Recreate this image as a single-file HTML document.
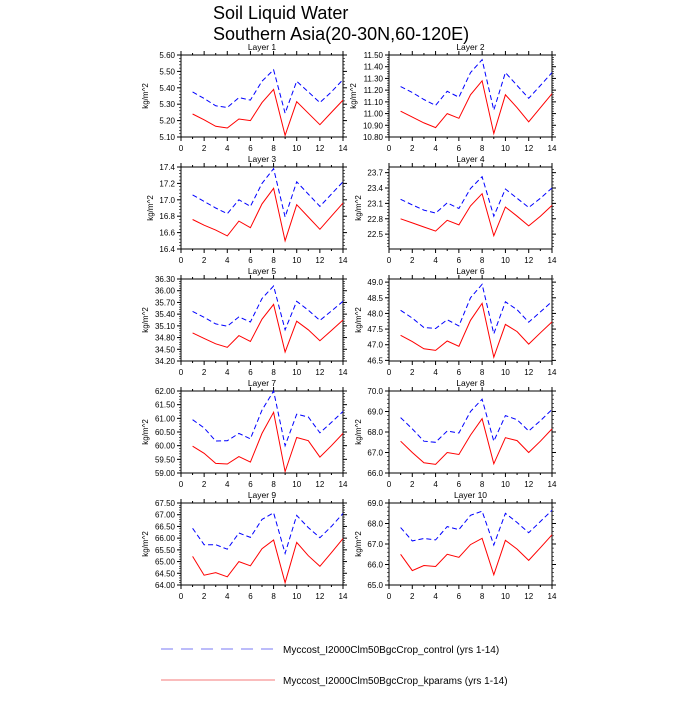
<!DOCTYPE html>
<html><head><meta charset="utf-8"><style>
body{margin:0;background:#fff}
svg text{font-family:"Liberation Sans",sans-serif}
</style></head><body>
<svg id="s" width="700" height="700" xmlns="http://www.w3.org/2000/svg">
<text x="213" y="19" font-size="18">Soil Liquid Water</text>
<text x="213" y="40" font-size="18">Southern Asia(20-30N,60-120E)</text>
<line x1="161" y1="649" x2="275" y2="649" stroke="#7a7af5" stroke-width="1" stroke-dasharray="12,8"/>
<text x="283" y="653" font-size="10">Myccost_I2000Clm50BgcCrop_control (yrs 1-14)</text>
<line x1="161" y1="680" x2="275" y2="680" stroke="#f57a7a" stroke-width="1"/>
<text x="283" y="684" font-size="10">Myccost_I2000Clm50BgcCrop_kparams (yrs 1-14)</text>
<g id="g"></g>
</svg>
<script>
var P=[
{t:"Layer 1",lo:5.10,hi:5.60,ticks:[5.1,5.2,5.3,5.4,5.5,5.6],d:2,mn:0.02,
b:[5.375,5.335,5.29,5.28,5.34,5.325,5.44,5.51,5.245,5.44,5.375,5.31,5.375,5.45],
r:[5.24,5.205,5.165,5.155,5.21,5.20,5.31,5.39,5.11,5.315,5.245,5.175,5.25,5.325]},
{t:"Layer 2",lo:10.8,hi:11.5,ticks:[10.8,10.9,11,11.1,11.2,11.3,11.4,11.5],d:2,mn:0.02,
b:[11.23,11.18,11.12,11.07,11.19,11.14,11.35,11.46,11.03,11.35,11.24,11.13,11.24,11.35],
r:[11.02,10.97,10.92,10.88,11.00,10.96,11.16,11.28,10.83,11.16,11.05,10.93,11.05,11.17]},
{t:"Layer 3",lo:16.4,hi:17.4,ticks:[16.4,16.6,16.8,17,17.2,17.4],d:1,mn:0.04,
b:[17.06,16.98,16.90,16.83,17.0,16.92,17.2,17.38,16.79,17.22,17.07,16.92,17.07,17.22],
r:[16.76,16.69,16.63,16.56,16.74,16.66,16.95,17.14,16.50,16.94,16.79,16.64,16.80,16.96]},
{t:"Layer 4",lo:22.21,hi:23.81,ticks:[22.5,22.8,23.1,23.4,23.7],d:1,mn:0.06,
b:[23.18,23.07,22.97,22.91,23.11,23.0,23.39,23.62,22.85,23.38,23.2,23.02,23.2,23.4],
r:[22.8,22.72,22.64,22.56,22.77,22.68,23.05,23.29,22.47,23.03,22.85,22.66,22.85,23.06]},
{t:"Layer 5",lo:34.2,hi:36.3,ticks:[34.2,34.5,34.8,35.1,35.4,35.7,36,36.3],d:2,mn:0.06,
b:[35.47,35.32,35.15,35.09,35.33,35.20,35.80,36.12,35.0,35.73,35.50,35.24,35.48,35.73],
r:[34.92,34.78,34.64,34.55,34.85,34.70,35.27,35.65,34.43,35.22,35.0,34.72,34.98,35.25]},
{t:"Layer 6",lo:46.48,hi:49.1,ticks:[46.5,47,47.5,48,48.5,49],d:1,mn:0.1,
b:[48.1,47.85,47.55,47.52,47.8,47.6,48.5,48.93,47.35,48.37,48.12,47.72,48.05,48.38],
r:[47.3,47.1,46.87,46.82,47.12,46.95,47.78,48.32,46.6,47.65,47.42,47.02,47.38,47.73]},
{t:"Layer 7",lo:59,hi:62,ticks:[59,59.5,60,60.5,61,61.5,62],d:2,mn:0.1,
b:[60.95,60.65,60.17,60.18,60.45,60.25,61.3,62.0,60.0,61.15,61.05,60.47,60.85,61.25],
r:[59.98,59.72,59.35,59.33,59.6,59.4,60.45,61.22,59.05,60.3,60.18,59.58,60.0,60.45]},
{t:"Layer 8",lo:66,hi:70,ticks:[66,67,68,69,70],d:1,mn:0.2,
b:[68.7,68.15,67.55,67.5,68.05,67.95,69.0,69.6,67.55,68.8,68.6,68.05,68.55,69.1],
r:[67.55,67.0,66.5,66.42,67.0,66.9,67.85,68.65,66.45,67.72,67.58,67.0,67.55,68.15]},
{t:"Layer 9",lo:64,hi:67.5,ticks:[64,64.5,65,65.5,66,66.5,67,67.5],d:2,mn:0.1,
b:[66.42,65.72,65.72,65.53,66.22,66.03,66.8,67.08,65.35,66.97,66.45,66.02,66.5,67.05],
r:[65.22,64.42,64.53,64.35,65.0,64.82,65.55,65.92,64.1,65.82,65.25,64.8,65.38,65.98]},
{t:"Layer 10",lo:65,hi:69,ticks:[65,66,67,68,69],d:1,mn:0.2,
b:[67.8,67.15,67.27,67.2,67.85,67.7,68.4,68.6,66.95,68.5,68.05,67.55,68.1,68.65],
r:[66.5,65.7,65.95,65.9,66.5,66.35,66.97,67.28,65.5,67.18,66.75,66.2,66.82,67.45]}];
var h="";
P.forEach(function(p,i){
 var col=i%2,row=Math.floor(i/2);
 var x0=col?389:181,x1=col?552:343,y0=55+row*112,y1=y0+82;
 var X=function(v){return x0+(x1-x0)*v/14},Y=function(v){return y1-(y1-y0)*(v-p.lo)/(p.hi-p.lo)};
 h+='<text x="'+((x0+x1)/2)+'" y="'+(y0-5)+'" font-size="8.5" text-anchor="middle">'+p.t+'</text>';
 h+='<text transform="translate('+(x0-(p.d==2?33:28))+','+((y0+y1)/2)+') rotate(-90)" font-size="8" text-anchor="middle">kg/m^2</text>';
 h+='<rect x="'+x0+'" y="'+y0+'" width="'+(x1-x0)+'" height="82" fill="none" stroke="#000" stroke-width="1"/>';
 for(var k=0;k<=14;k++){var L=k%2?2:4,xx=X(k);
  h+='<line x1="'+xx+'" y1="'+y1+'" x2="'+xx+'" y2="'+(y1+L)+'" stroke="#000"/><line x1="'+xx+'" y1="'+y0+'" x2="'+xx+'" y2="'+(y0-L)+'" stroke="#000"/>';
  if(k%2==0)h+='<text x="'+xx+'" y="'+(y1+14)+'" font-size="8" text-anchor="middle">'+k+'</text>';}
 for(var v=Math.ceil(p.lo/p.mn-1e-6)*p.mn;v<=p.hi+1e-6;v+=p.mn){var yy=Y(v);
  h+='<line x1="'+x0+'" y1="'+yy+'" x2="'+(x0-2)+'" y2="'+yy+'" stroke="#000" stroke-width="0.6"/><line x1="'+x1+'" y1="'+yy+'" x2="'+(x1+2)+'" y2="'+yy+'" stroke="#000" stroke-width="0.6"/>';}
 p.ticks.forEach(function(v){var yy=Y(v);
  h+='<line x1="'+x0+'" y1="'+yy+'" x2="'+(x0-4)+'" y2="'+yy+'" stroke="#000"/><line x1="'+x1+'" y1="'+yy+'" x2="'+(x1+4)+'" y2="'+yy+'" stroke="#000"/>';
  h+='<text x="'+(x0-6)+'" y="'+(yy+3)+'" font-size="8" text-anchor="end">'+v.toFixed(p.d)+'</text>';});
 var pl=function(a){return a.map(function(v,j){return X(j+1).toFixed(1)+','+Y(v).toFixed(1)}).join(' ')};
 h+='<polyline points="'+pl(p.b)+'" fill="none" stroke="#0000ff" stroke-width="1" stroke-dasharray="5,3"/>';
 h+='<polyline points="'+pl(p.r)+'" fill="none" stroke="#ff0000" stroke-width="1"/>';
});
document.getElementById("g").innerHTML=h;
</script>
</body></html>
